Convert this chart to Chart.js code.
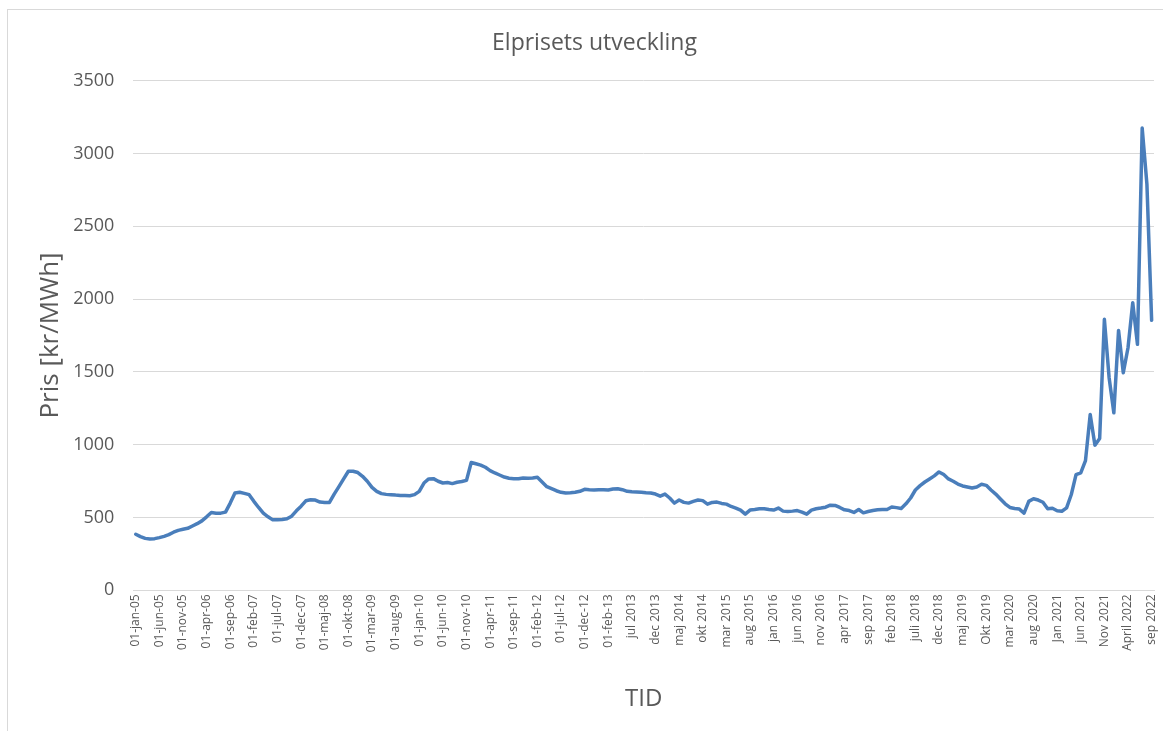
<!DOCTYPE html>
<html lang="sv">
<head>
<meta charset="utf-8">
<title>Elprisets utveckling</title>
<script src="https://cdn.jsdelivr.net/npm/chart.js@4.4.1/dist/chart.umd.min.js"></script>
<style>
    html, body { margin: 0; padding: 0; background: #ffffff; }
    #wrap { position: relative; width: 1163px; height: 731px; overflow: hidden; }
    #frame {
        position: absolute; left: 7px; top: 9px; width: 1200px; height: 760px;
        border-left: 1px solid #d9d9d9; border-top: 1px solid #d9d9d9;
        pointer-events: none;
    }
    #priceChart { position: absolute; left: 0; top: 0; }
</style>
</head>
<body>
<div id="wrap">
    <canvas id="priceChart" width="1163" height="731"></canvas>
    <div id="frame"></div>
</div>
<script>
// Tick labels, one for every fifth month in the series
const tickLabels = [
    '01-jan-05', '01-jun-05', '01-nov-05', '01-apr-06', '01-sep-06', '01-feb-07',
    '01-jul-07', '01-dec-07', '01-maj-08', '01-okt-08', '01-mar-09', '01-aug-09',
    '01-jan-10', '01-jun-10', '01-nov-10', '01-apr-11', '01-sep-11', '01-feb-12',
    '01-jul-12', '01-dec-12', '01-feb-13', 'jul 2013', 'dec 2013', 'maj 2014',
    'okt 2014', 'mar 2015', 'aug 2015', 'jan 2016', 'jun 2016', 'nov 2016',
    'apr 2017', 'sep 2017', 'feb 2018', 'juli 2018', 'dec 2018', 'maj 2019',
    'Okt 2019', 'mar 2020', 'aug 2020', 'Jan 2021', 'jun 2021', 'Nov 2021',
    'April 2022', 'sep 2022'
];

// Monthly price, kr/MWh (216 months)
const prices = [
    385, 369, 357, 352, 355, 362, 371, 383, 399, 412,
    419, 426, 442, 458, 477, 505, 535, 530, 530, 537,
    599, 668, 673, 666, 657, 611, 569, 530, 505, 484,
    484, 486, 491, 509, 546, 578, 615, 622, 620, 606,
    603, 604, 661, 712, 765, 818, 818, 809, 783, 749,
    707, 680, 664, 659, 657, 654, 652, 652, 650, 657,
    680, 737, 765, 767, 749, 737, 740, 733, 742, 747,
    755, 878, 869, 860, 845, 822, 806, 792, 778, 770,
    767, 766, 772, 770, 772, 776, 744, 712, 698, 684,
    673, 668, 670, 673, 680, 694, 691, 689, 691, 691,
    689, 696, 698, 691, 680, 677, 675, 673, 670, 668,
    661, 647, 661, 634, 599, 620, 604, 599, 611, 620,
    616, 592, 604, 606, 597, 592, 576, 565, 551, 523,
    551, 555, 560, 560, 555, 551, 565, 544, 541, 544,
    548, 537, 523, 551, 560, 565, 571, 585, 583, 569,
    553, 548, 535, 555, 532, 541, 548, 553, 555, 555,
    572, 568, 562, 594, 634, 689, 719, 744, 765, 786,
    813, 795, 765, 749, 730, 717, 710, 703, 710, 728,
    721, 689, 661, 627, 594, 569, 562, 558, 530, 611,
    629, 620, 605, 560, 564, 547, 543, 566, 658, 795,
    807, 891, 1208, 997, 1043, 1861, 1460, 1219, 1785, 1494,
    1666, 1975, 1689, 3174, 2789, 1854
];

const labels = prices.map((_, i) => (i % 5 === 0 ? tickLabels[i / 5] : ''));

const textGrey = '#595959';
const fontFamily = '"Open Sans", "DejaVu Sans", sans-serif';

new Chart(document.getElementById('priceChart'), {
    type: 'line',
    data: {
        labels: labels,
        datasets: [{
            label: 'Pris',
            data: prices,
            borderColor: '#4a7ebb',
            borderWidth: 3.5,
            borderJoinStyle: 'round',
            borderCapStyle: 'round',
            pointRadius: 0,
            tension: 0,
            fill: false
        }]
    },
    options: {
        responsive: false,
        animation: false,
        layout: { padding: { left: 35, right: 9, top: 30, bottom: 17 } },
        plugins: {
            legend: { display: false },
            tooltip: { enabled: false },
            title: {
                display: true,
                text: 'Elprisets utveckling',
                color: textGrey,
                font: { family: fontFamily, size: 23, weight: 'normal' },
                padding: { top: 0, bottom: 23 }
            }
        },
        scales: {
            x: {
                offset: true,
                grid: { display: false, drawTicks: false },
                border: { display: true, color: '#d9d9d9', width: 1 },
                ticks: {
                    autoSkip: false,
                    maxRotation: 90,
                    minRotation: 90,
                    padding: 4,
                    color: textGrey,
                    font: { family: fontFamily, size: 12 }
                },
                title: {
                    display: true,
                    text: 'TID',
                    color: textGrey,
                    font: { family: fontFamily, size: 24 },
                    padding: { top: 29, bottom: 0 }
                },
                // rotated labels hang straight down, so no side room is needed
                afterFit: scale => {
                    scale.paddingLeft = 0;
                    scale.paddingRight = 0;
                }
            },
            y: {
                min: 0,
                max: 3500,
                grid: { color: '#d9d9d9', drawTicks: false },
                border: { display: false },
                ticks: {
                    stepSize: 500,
                    padding: 19,
                    color: textGrey,
                    font: { family: fontFamily, size: 18 },
                    callback: value => String(value)
                },
                title: {
                    display: true,
                    text: 'Pris [kr/MWh]',
                    color: textGrey,
                    font: { family: fontFamily, size: 26 },
                    padding: { top: 0, bottom: -12 }
                }
            }
        }
    }
});
</script>
</body>
</html>
